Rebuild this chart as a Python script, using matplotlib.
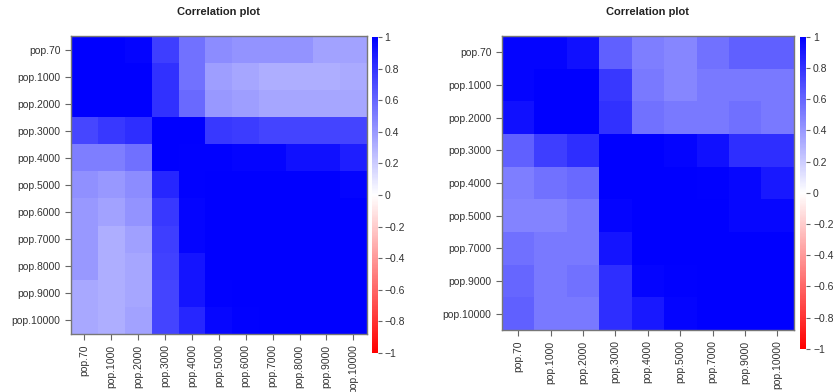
import numpy as np
import matplotlib
matplotlib.use('Agg')
import matplotlib.pyplot as plt
from matplotlib.colors import LinearSegmentedColormap

# left panel: 11 populations
labels_a = ['pop.70', 'pop.1000', 'pop.2000', 'pop.3000', 'pop.4000', 'pop.5000',
            'pop.6000', 'pop.7000', 'pop.8000', 'pop.9000', 'pop.10000']
corr_a = [
    [1.00, 1.00, 0.98, 0.75, 0.55, 0.45, 0.42, 0.42, 0.42, 0.36, 0.36],
    [1.00, 1.00, 1.00, 0.80, 0.55, 0.38, 0.35, 0.32, 0.32, 0.32, 0.33],
    [1.00, 1.00, 1.00, 0.80, 0.58, 0.40, 0.38, 0.35, 0.35, 0.35, 0.35],
    [0.72, 0.78, 0.82, 1.00, 1.00, 0.78, 0.76, 0.73, 0.73, 0.73, 0.73],
    [0.50, 0.50, 0.56, 1.00, 0.99, 0.99, 0.98, 0.98, 0.93, 0.93, 0.88],
    [0.43, 0.40, 0.45, 0.85, 0.99, 1.00, 1.00, 1.00, 1.00, 1.00, 0.98],
    [0.40, 0.36, 0.42, 0.78, 0.98, 1.00, 1.00, 1.00, 1.00, 1.00, 1.00],
    [0.40, 0.32, 0.37, 0.75, 0.98, 1.00, 1.00, 1.00, 1.00, 1.00, 1.00],
    [0.40, 0.32, 0.35, 0.74, 0.92, 1.00, 1.00, 1.00, 1.00, 1.00, 1.00],
    [0.34, 0.32, 0.35, 0.73, 0.92, 0.99, 1.00, 1.00, 1.00, 1.00, 1.00],
    [0.34, 0.32, 0.36, 0.73, 0.85, 0.97, 0.99, 1.00, 1.00, 1.00, 1.00],
]

# right panel: 9 populations
labels_b = ['pop.70', 'pop.1000', 'pop.2000', 'pop.3000', 'pop.4000', 'pop.5000',
            'pop.7000', 'pop.9000', 'pop.10000']
corr_b = [
    [0.98, 0.98, 0.93, 0.62, 0.50, 0.47, 0.55, 0.62, 0.62],
    [0.98, 1.00, 1.00, 0.78, 0.52, 0.47, 0.52, 0.52, 0.52],
    [0.93, 1.00, 1.00, 0.80, 0.55, 0.52, 0.52, 0.56, 0.52],
    [0.62, 0.75, 0.82, 1.00, 1.00, 0.98, 0.93, 0.82, 0.82],
    [0.50, 0.55, 0.58, 1.00, 1.00, 1.00, 0.99, 0.97, 0.90],
    [0.48, 0.48, 0.52, 0.98, 1.00, 1.00, 1.00, 0.97, 0.97],
    [0.56, 0.52, 0.52, 0.92, 1.00, 1.00, 1.00, 1.00, 1.00],
    [0.60, 0.52, 0.55, 0.82, 0.98, 0.99, 1.00, 1.00, 1.00],
    [0.62, 0.52, 0.52, 0.82, 0.90, 0.98, 1.00, 1.00, 1.00],
]

cbar_ticks = [-1, -0.8, -0.6, -0.4, -0.2, 0, 0.2, 0.4, 0.6, 0.8, 1]

cmap = LinearSegmentedColormap.from_list('rwb', ['#ff0000', '#ffffff', '#0000ff'])
plt.rcParams['font.family'] = 'Liberation Sans'

fig = plt.figure(figsize=(8.38, 3.92), dpi=100)

panels = [
    (labels_a, corr_a, [0.0847, 0.148, 0.353, 0.760], [0.4440, 0.0995, 0.0065, 0.806]),
    (labels_b, corr_b, [0.5990, 0.158, 0.348, 0.750], [0.9550, 0.1100, 0.0070, 0.796]),
]

for labels, corr, pos, cpos in panels:
    ax = fig.add_axes(pos)
    im = ax.imshow(np.array(corr), cmap=cmap, vmin=-1, vmax=1, aspect='auto',
                   interpolation='nearest')
    ax.set_xticks(range(len(labels)))
    ax.set_yticks(range(len(labels)))
    ax.set_xticklabels(labels, rotation=90, fontsize=7.5, color='#333333')
    ax.set_yticklabels(labels, fontsize=7.5, color='#333333')
    ax.tick_params(length=4, color='#666666', width=0.8)
    for s in ax.spines.values():
        s.set_color('#777777')
        s.set_linewidth(1.0)
    ax.set_title('Correlation plot', fontsize=8, fontweight='bold', pad=15,
                 color='#222222')

    cax = fig.add_axes(cpos)
    cb = fig.colorbar(im, cax=cax, ticks=cbar_ticks)
    cb.outline.set_visible(False)
    cb.ax.set_yticklabels([('%g' % t).replace('-', '\u2212') for t in cbar_ticks])
    cb.ax.tick_params(labelsize=7.5, length=3, color='#666666', labelcolor='#333333',
                      width=0.8, pad=2)

fig.savefig('out.png', dpi=100)
